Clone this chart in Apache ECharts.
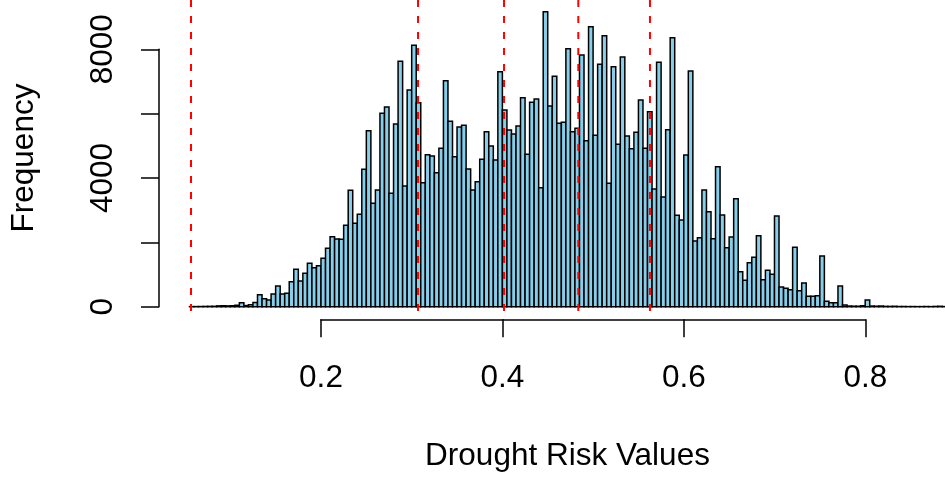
<!DOCTYPE html>
<html>
<head>
<meta charset="utf-8">
<script src="https://cdn.jsdelivr.net/npm/echarts@6/dist/echarts.min.js"></script>
<style>
  html, body { margin: 0; padding: 0; background: #fff; }
  #chart { width: 945px; height: 479px; }
</style>
</head>
<body>
<div id="chart"></div>
<script>
// histogram breaks: 0.055 .. 0.895, step 0.005
const breakStart = 0.055;
const binWidth = 0.005;
const counts = [
  2, 3, 5, 8, 10, 12, 25, 30, 25, 30,
  45, 120, 35, 60, 130, 373, 249, 208, 395, 643,
  395, 416, 777, 1162, 799, 1038, 1349, 1210, 1275, 1503,
  1814, 2176, 2104, 2094, 2529, 3617, 2591, 2871, 4270, 5470,
  3213, 3627, 6010, 6207, 3524, 5678, 7627, 3751, 6735, 8124,
  6341, 3854, 4724, 4684, 4165, 4923, 7025, 5762, 4663, 5585,
  5637, 4280, 3627, 3885, 4581, 5439, 4995, 4560, 7304, 6114,
  5492, 5368, 5616, 6496, 4737, 6352, 6455, 3699, 9169, 6238,
  7160, 5699, 5730, 8019, 5439, 5544, 7823, 5160, 8702, 5327,
  7534, 8423, 3835, 7459, 5047, 7761, 5305, 4911, 5420, 6424,
  4923, 6061, 3658, 7596, 3410, 5501, 8361, 2841, 2695, 4715,
  7326, 2042, 2145, 3627, 2953, 2114, 4351, 2850, 1834, 2166,
  3357, 1088, 820, 1368, 1535, 2207, 840, 1130, 1006, 2819,
  612, 571, 529, 1845, 498, 737, 322, 322, 343, 1576,
  167, 125, 125, 643, 53, 20, 15, 15, 30, 208,
  20, 15, 20, 10, 8, 12, 5, 6, 3, 4, 2, 3, 5, 2, 8, 12, 4, 2
];
// red dashed reference lines
const refLines = [0.0567, 0.307, 0.4018, 0.4837, 0.5627];
const xTicks = [0.2, 0.4, 0.6, 0.8];
const yTicks = [0, 2000, 4000, 6000, 8000];

const FONT = 'Liberation Sans, Arial, sans-serif';
const FS = 31.5;

const bins = counts.map(function (c, i) {
  const lo = +(breakStart + i * binWidth).toFixed(4);
  return [lo, +(lo + binWidth).toFixed(4), c];
});

const myChart = echarts.init(document.getElementById('chart'), null, { renderer: 'canvas' });

const option = {
  backgroundColor: '#ffffff',
  animation: false,
  grid: [
    { left: 159, right: 0, top: 49.3, bottom: 172.3 },
    { left: 321, right: 79.7, top: 300, bottom: 159.7 }
  ],
  xAxis: [
    { gridIndex: 0, type: 'value', min: 0.0214, max: 0.888, show: false },
    {
      gridIndex: 1, type: 'value', min: xTicks[0], max: xTicks[xTicks.length - 1], interval: 0.2,
      axisLine: { show: true, lineStyle: { color: '#000', width: 1.5 } },
      axisTick: { show: true, length: 18, lineStyle: { color: '#000', width: 1.5 } },
      splitLine: { show: false },
      axisLabel: {
        show: true, margin: 43, color: '#000', fontSize: FS, fontFamily: FONT,
        showMinLabel: true, showMaxLabel: true,
        formatter: function (v) { return v.toFixed(1); }
      }
    }
  ],
  yAxis: [
    {
      gridIndex: 0, type: 'value', min: yTicks[0], max: yTicks[yTicks.length - 1], interval: 2000,
      axisLine: { show: true, lineStyle: { color: '#000', width: 1.5 } },
      axisTick: { show: true, length: 18, lineStyle: { color: '#000', width: 1.5 } },
      splitLine: { show: false },
      axisLabel: {
        show: true, rotate: 90, margin: 40, color: '#000', fontSize: FS, fontFamily: FONT,
        showMinLabel: true, showMaxLabel: true,
        formatter: function (v) { return v % 4000 === 0 ? String(v) : ''; }
      }
    },
    { gridIndex: 1, type: 'value', show: false }
  ],
  graphic: [
    {
      type: 'text', x: 24, y: 158, rotation: Math.PI / 2,
      style: { text: 'Frequency', fill: '#000', font: FS + 'px ' + FONT, align: 'center', verticalAlign: 'middle' }
    },
    {
      type: 'text', x: 567.5, y: 456,
      style: { text: 'Drought Risk Values', fill: '#000', font: FS + 'px ' + FONT, align: 'center', verticalAlign: 'middle' }
    }
  ],
  series: [
    {
      type: 'custom',
      xAxisIndex: 0, yAxisIndex: 0,
      encode: { x: [0, 1], y: 2 },
      data: bins,
      renderItem: function (params, api) {
        const p0 = api.coord([api.value(0), 0]);
        const p1 = api.coord([api.value(1), api.value(2)]);
        return {
          type: 'rect',
          shape: { x: p0[0], y: p1[1], width: p1[0] - p0[0], height: p0[1] - p1[1] },
          style: { fill: '#87CEEB', stroke: '#000', lineWidth: 1.5 }
        };
      }
    },
    {
      type: 'custom',
      xAxisIndex: 0, yAxisIndex: 0,
      encode: { x: 0 },
      data: refLines.map(function (v) { return [v]; }),
      renderItem: function (params, api) {
        const top = api.coord([api.value(0), 9536]);
        const bot = api.coord([api.value(0), -367]);
        return {
          type: 'line',
          shape: { x1: top[0], y1: top[1], x2: bot[0], y2: bot[1] },
          style: { stroke: '#ff0000', lineWidth: 2, lineDash: [7, 9] }
        };
      }
    }
  ]
};

option && myChart.setOption(option);
</script>
</body>
</html>
